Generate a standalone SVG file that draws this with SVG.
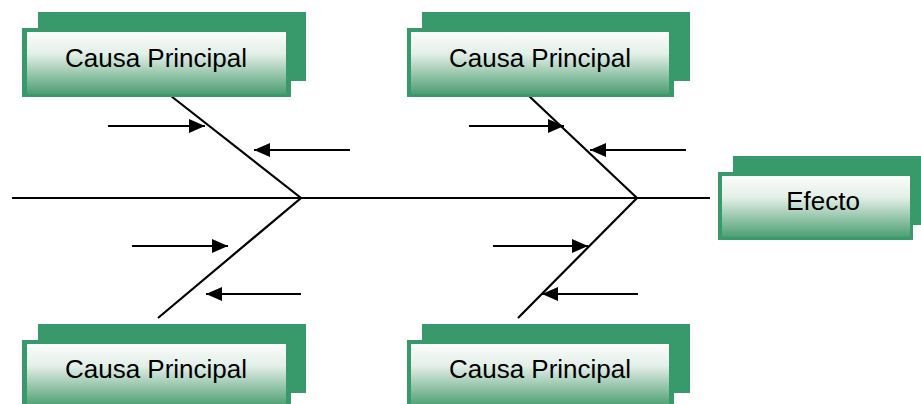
<svg xmlns="http://www.w3.org/2000/svg" width="921" height="404" viewBox="0 0 921 404">
<defs>
<linearGradient id="g" x1="0" y1="0" x2="0" y2="1">
<stop offset="0" stop-color="#fbfcfb"/>
<stop offset="0.35" stop-color="#e3efe8"/>
<stop offset="1" stop-color="#4d9f72"/>
</linearGradient>
<marker id="ah" markerWidth="16" markerHeight="14" refX="16" refY="7" orient="auto" markerUnits="userSpaceOnUse">
<path d="M0,0 L16,7 L0,14 Z" fill="#000"/>
</marker>
<style>
.back{fill:#389a6a}
.front{fill:#389a6a}
.inner{fill:url(#g)}
.lbl{font-family:"Liberation Sans",Arial,sans-serif;font-size:26px;fill:#000;text-anchor:middle}
.bone{stroke:#000;stroke-width:2.2;fill:none}
.arr{stroke:#000;stroke-width:1.8;fill:none;marker-end:url(#ah)}
</style>
</defs>
<rect width="921" height="404" fill="#fff"/>
<g id="connectors">
<line class="bone" x1="12" y1="198" x2="710" y2="198"/>
<polyline class="bone" points="171,96 301,198 158,318"/>
<polyline class="bone" points="529,96 637,198 518,318"/>
<line class="arr" x1="108" y1="126" x2="205" y2="126"/>
<line class="arr" x1="350" y1="150" x2="254" y2="150"/>
<line class="arr" x1="132" y1="246" x2="228" y2="246"/>
<line class="arr" x1="301" y1="294" x2="206" y2="294"/>
<line class="arr" x1="469" y1="126" x2="564" y2="126"/>
<line class="arr" x1="686" y1="150" x2="590" y2="150"/>
<line class="arr" x1="493" y1="246" x2="588" y2="246"/>
<line class="arr" x1="638" y1="294" x2="542" y2="294"/>
</g>
<g id="causa1">
<rect class="back" x="38" y="12" width="268" height="69"/>
<rect class="front" x="22" y="28" width="269" height="69"/>
<rect class="inner" x="27" y="32" width="259" height="62"/>
<text class="lbl" x="156" y="67">Causa Principal</text>
</g>
<g id="causa2">
<rect class="back" x="422" y="12" width="268" height="69"/>
<rect class="front" x="407" y="28" width="267" height="69"/>
<rect class="inner" x="411" y="32" width="258" height="62"/>
<text class="lbl" x="540" y="67">Causa Principal</text>
</g>
<g id="causa3">
<rect class="back" x="38" y="324" width="268" height="69"/>
<rect class="front" x="22" y="340" width="269" height="69"/>
<rect class="inner" x="27" y="344" width="259" height="62"/>
<text class="lbl" x="156" y="378">Causa Principal</text>
</g>
<g id="causa4">
<rect class="back" x="422" y="324" width="268" height="69"/>
<rect class="front" x="407" y="340" width="267" height="69"/>
<rect class="inner" x="411" y="344" width="258" height="62"/>
<text class="lbl" x="540" y="378">Causa Principal</text>
</g>
<g id="efecto">
<rect class="back" x="733" y="156" width="200" height="69"/>
<rect class="front" x="718" y="172" width="195" height="68"/>
<rect class="inner" x="722" y="176" width="188" height="61"/>
<text class="lbl" x="823" y="210">Efecto</text>
</g>
</svg>
